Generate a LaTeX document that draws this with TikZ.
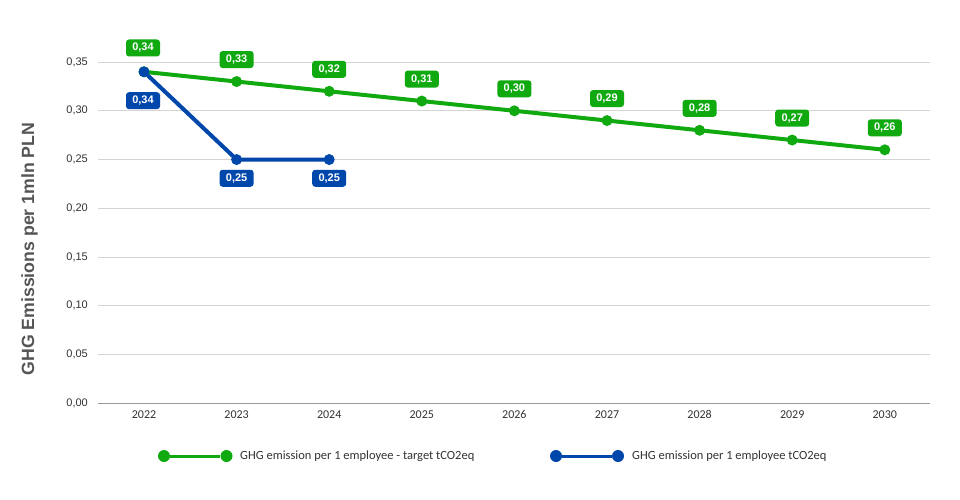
\documentclass[tikz,border=0pt]{standalone}
\usepackage{fontspec}
\usetikzlibrary{calc}
\setmainfont{Liberation Sans}
\newfontfamily\carl{Carlito}
\definecolor{gcol}{HTML}{10A910}
\definecolor{bcol}{HTML}{0047AB}
\definecolor{gridc}{HTML}{D4D4D4}
\definecolor{axisc}{HTML}{9A9A9A}
\definecolor{txtc}{HTML}{333333}
\definecolor{titc}{HTML}{555555}
\tikzset{
  gridline/.style={draw=gridc, line width=1pt},
  ytick/.style={anchor=east, font=\fontsize{11}{12}\selectfont, text=txtc, inner sep=0pt},
  xtick/.style={anchor=center, font=\carl\fontsize{12}{13}\selectfont, text=txtc, inner sep=0pt},
  glab/.style={fill=gcol, text=white, rounded corners=3pt, font=\bfseries\fontsize{11}{12}\selectfont, minimum width=34pt, minimum height=17pt, inner sep=0pt},
  blab/.style={glab, fill=bcol},
  gline/.style={draw=gcol, line width=4pt},
  bline/.style={draw=bcol, line width=4pt},
  gdot/.style={circle, fill=gcol, minimum size=11pt, inner sep=0pt},
  bdot/.style={circle, fill=bcol, minimum size=11pt, inner sep=0pt},
  legtext/.style={anchor=west, font=\carl\fontsize{12.5}{13}\selectfont, text=txtc, inner sep=0pt},
}
\begin{document}
\begin{tikzpicture}[x=1pt, y=-1pt]
\useasboundingbox (0,0) rectangle (960,500);
\fill[white] (0,0) rectangle (960,500);
% grid
\foreach \v/\t in {1/{0,05}, 2/{0,10}, 3/{0,15}, 4/{0,20}, 5/{0,25}, 6/{0,30}, 7/{0,35}}{
  \draw[gridline] (98,{403.3-48.75*\v}) -- (930,{403.3-48.75*\v});
  \node[ytick] (yt\v) at (88,{403.3-48.75*\v}) {\t};
}
\draw[draw=axisc, line width=1.2pt] (98,403.3) -- (930,403.3);
\node[ytick] (yt0) at (88,403.3) {0,00};
% x labels
\foreach \i in {0,...,8}{
  \pgfmathtruncatemacro\yr{2022+\i}
  \node[xtick] (xt\i) at ({144+92.6*\i},414.5) {\yr};
}
% y title
\node[rotate=90, font=\bfseries\fontsize{17.7}{18}\selectfont, text=titc, inner sep=0pt] (ytitle) at (29.5,249) {GHG Emissions per 1mln PLN};
% green series
\foreach \i/\val in {0/34,1/33,2/32,3/31,4/30,5/29,6/28,7/27,8/26}{
  \coordinate (g\i) at ({144+92.6*\i},{403.3-9.75*\val});
}
\draw[gline, line join=round] (g0) -- (g1) -- (g2) -- (g3) -- (g4) -- (g5) -- (g6) -- (g7) -- (g8);
% blue series
\coordinate (b0) at (144,{403.3-9.75*34});
\coordinate (b1) at ({144+92.6},{403.3-9.75*25});
\coordinate (b2) at ({144+92.6*2},{403.3-9.75*25});
\draw[bline, line join=round] (b0) -- (b1) -- (b2);
\foreach \i in {1,...,8}{ \node[gdot] (gd\i) at (g\i) {}; }
\node[gdot] (gd0) at (g0) {};
\foreach \i in {0,1,2}{ \node[bdot] (bd\i) at (b\i) {}; }
% green labels
\node[glab] (gl0) at (143,48) {0,34};
\foreach \i/\val in {1/33,2/32,3/31,4/30,5/29,6/28,7/27,8/26}{
  \node[glab] (gl\i) at ($(g\i)+(0,-22)$) {0,\val};
}
% blue labels
\node[blab] (bl0) at (143,100.7) {0,34};
\node[blab] (bl1) at ($(b1)+(0,18.7)$) {0,25};
\node[blab] (bl2) at ($(b2)+(0,18.7)$) {0,25};
% legend
\node[gdot, minimum size=12pt] (lg1) at (164,456) {};
\node[gdot, minimum size=12pt] (lg2) at (226.5,456) {};
\draw[draw=gcol, line width=3pt] (lg1) -- (lg2);
\node[legtext] (lgt) at (240,456) {GHG emission per 1 employee - target tCO2eq};
\node[bdot, minimum size=12pt] (lb1) at (556,456) {};
\node[bdot, minimum size=12pt] (lb2) at (618,456) {};
\draw[draw=bcol, line width=3pt] (lb1) -- (lb2);
\node[legtext] (lbt) at (632,456) {GHG emission per 1 employee tCO2eq};
\end{tikzpicture}
\end{document}
